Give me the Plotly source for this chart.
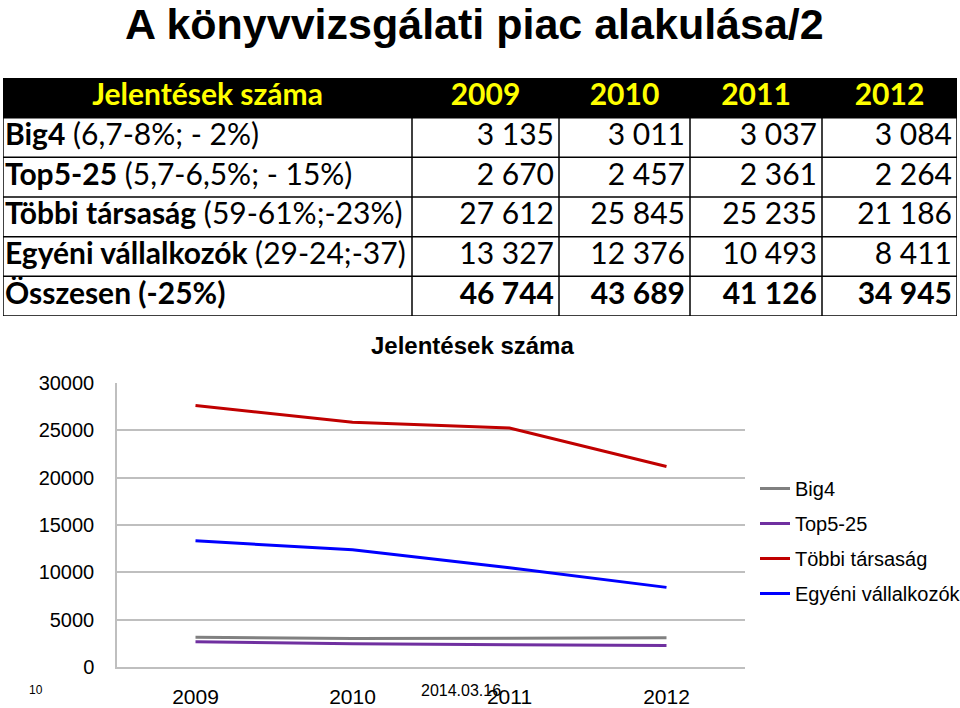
import plotly.graph_objects as go

W, H = 960, 708

years = ["2009", "2010", "2011", "2012"]
series_names = ["Big4", "Top5-25", "Többi társaság", "Egyéni vállalkozók"]
row_notes = ["(6,7-8%; - 2%)", "(5,7-6,5%; - 15%)", "(59-61%;-23%)", "(29-24;-37)"]
big4 = [3135, 3011, 3037, 3084]
top5_25 = [2670, 2457, 2361, 2264]
tobbi = [27612, 25845, 25235, 21186]
egyeni = [13327, 12376, 10493, 8411]
total_label = "Összesen (-25%)"
totals = [46744, 43689, 41126, 34945]
table_header = "Jelentések száma"
series_values = [big4, top5_25, tobbi, egyeni]
series_colors = ["#808080", "#7030A0", "#C00000", "#0000FF"]
y_ticks = [0, 5000, 10000, 15000, 20000, 25000, 30000]

# table geometry (style)
col_widths = [409, 147, 131, 132, 135]
TFONT = "Lato"
TSIZE = 30


def fmt(v):
    return f"{v:,}".replace(",", " ")


def px_x(x):
    return x / W


def px_y(y):
    return 1 - y / H


col_edges = [0]
for w in col_widths:
    col_edges.append(col_edges[-1] + w)
n_rows = 1 + len(series_names) + 1
row_edges = list(range(n_rows + 1))
col_centers = [(col_edges[i] + col_edges[i + 1]) / 2 for i in range(len(col_widths))]

fig = go.Figure()

# ---- table as a cartesian grid ----
z = [[1] * len(col_widths)] + [[0] * len(col_widths) for _ in range(n_rows - 1)]
fig.add_trace(go.Heatmap(
    x=col_edges, y=row_edges, z=z,
    colorscale=[[0, "white"], [1, "black"]], zmin=0, zmax=1,
    showscale=False, hoverinfo="skip",
    xaxis="x2", yaxis="y2", showlegend=False,
))

# header text
fig.add_trace(go.Scatter(
    x=col_centers, y=[0.5] * len(col_centers),
    text=[f"<b>{table_header}</b>"] + [f"<b>{y}</b>" for y in years],
    mode="text", textposition="middle center",
    textfont=dict(family=TFONT, size=TSIZE, color="#FFFF00"),
    xaxis="x2", yaxis="y2", showlegend=False, hoverinfo="skip",
))

# row labels
row_labels = [f"<b>{n}</b> {note}" for n, note in zip(series_names, row_notes)] + [f"<b>{total_label}</b>"]
fig.add_trace(go.Scatter(
    x=[col_edges[0] + 2] * len(row_labels),
    y=[i + 1.5 for i in range(len(row_labels))],
    text=row_labels,
    mode="text", textposition="middle right",
    textfont=dict(family=TFONT, size=TSIZE, color="black"),
    xaxis="x2", yaxis="y2", showlegend=False, hoverinfo="skip",
))

# numbers
nx, ny, nt = [], [], []
for j in range(len(years)):
    for i, s in enumerate(series_values):
        nx.append(col_edges[j + 2] - 5)
        ny.append(i + 1.5)
        nt.append(fmt(s[j]))
    nx.append(col_edges[j + 2] - 5)
    ny.append(len(series_values) + 1.5)
    nt.append(f"<b>{fmt(totals[j])}</b>")
fig.add_trace(go.Scatter(
    x=nx, y=ny, text=nt,
    mode="text", textposition="middle left",
    textfont=dict(family=TFONT, size=TSIZE, color="black"),
    xaxis="x2", yaxis="y2", showlegend=False, hoverinfo="skip",
))

shapes = []
for r in row_edges[1:]:
    shapes.append(dict(type="line", xref="x2", yref="y2", x0=col_edges[0], x1=col_edges[-1],
                       y0=r, y1=r, line=dict(color="black", width=1.5), layer="above"))
for c in col_edges:
    shapes.append(dict(type="line", xref="x2", yref="y2", x0=c, x1=c,
                       y0=row_edges[1], y1=row_edges[-1], line=dict(color="black", width=1.5), layer="above"))

# ---- line chart ----
for name, vals, col in zip(series_names, series_values, series_colors):
    fig.add_trace(go.Scatter(
        x=years, y=vals, name=name, mode="lines",
        line=dict(color=col, width=3),
        xaxis="x", yaxis="y", legendgroup=name,
    ))

fig.update_layout(
    width=W, height=H,
    margin=dict(l=0, r=0, t=0, b=0, autoexpand=False),
    paper_bgcolor="white",
    plot_bgcolor="white",
    font=dict(family="Liberation Sans, Arial", color="black"),
    showlegend=True,
    shapes=shapes,
    legend=dict(
        x=px_x(755), y=px_y(541), xanchor="left", yanchor="middle",
        font=dict(family="Liberation Sans, Arial", size=20, color="black"),
        bgcolor="rgba(0,0,0,0)",
        tracegroupgap=6,
    ),
    xaxis=dict(
        domain=[px_x(117), px_x(745)],
        type="category",
        range=[-0.5, 3.5],
        showgrid=False,
        showline=True, linecolor="#BFBFBF", linewidth=1.5,
        ticks="",
        tickfont=dict(size=21, color="black"),
        ticklabelstandoff=10,
        anchor="y",
    ),
    yaxis=dict(
        domain=[px_y(667), px_y(383)],
        range=[0, 30000],
        tickvals=y_ticks,
        ticktext=[str(v) for v in y_ticks],
        showgrid=True, gridcolor="#BFBFBF", gridwidth=1.5,
        showline=True, linecolor="#BFBFBF", linewidth=1.5,
        zeroline=False,
        ticks="",
        tickfont=dict(size=20, color="black"),
        ticklabelstandoff=17,
        anchor="x",
    ),
    xaxis2=dict(
        domain=[px_x(3), px_x(957)], range=[col_edges[0], col_edges[-1]],
        visible=False, fixedrange=True, anchor="y2",
    ),
    yaxis2=dict(
        domain=[px_y(316), px_y(78)], range=[row_edges[-1], row_edges[0]],
        visible=False, fixedrange=True, anchor="x2",
    ),
    annotations=[
        dict(text="<b>A könyvvizsgálati piac alakulása/2</b>", x=px_x(474), y=px_y(24),
             xref="paper", yref="paper", showarrow=False, xanchor="center", yanchor="middle",
             font=dict(family="Liberation Sans, Arial", size=43, color="black")),
        dict(text="<b>Jelentések száma</b>", x=px_x(472), y=px_y(345),
             xref="paper", yref="paper", showarrow=False, xanchor="center", yanchor="middle",
             font=dict(family="Liberation Sans, Arial", size=24, color="black")),
        dict(text="10", x=px_x(36), y=px_y(690),
             xref="paper", yref="paper", showarrow=False, xanchor="center", yanchor="middle",
             font=dict(family="Liberation Sans, Arial", size=12, color="black")),
        dict(text="2014.03.16", x=px_x(461), y=px_y(690),
             xref="paper", yref="paper", showarrow=False, xanchor="center", yanchor="middle",
             font=dict(family="Liberation Sans, Arial", size=16, color="black")),
    ],
)

fig.write_html("out.html")
